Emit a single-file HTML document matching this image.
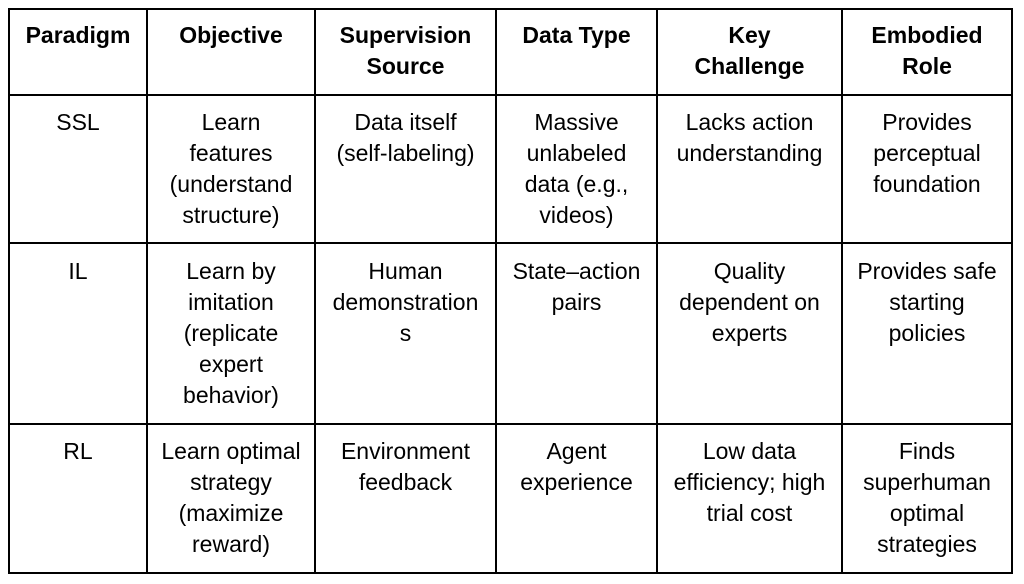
<!DOCTYPE html>
<html><head><style>
body{margin:0;width:1024px;height:584px;background:#fff;position:relative;overflow:hidden;font-family:"Liberation Sans",Arial,sans-serif;color:#000}
.v{position:absolute;background:#000;width:2px}
.h{position:absolute;background:#000;height:2px}
.c{position:absolute;text-align:center;font-size:23px;line-height:31px;white-space:nowrap}
.b{font-weight:bold}
</style></head><body>
<div class="h" style="left:8px;top:8px;width:1005px"></div>
<div class="h" style="left:8px;top:94px;width:1005px"></div>
<div class="h" style="left:8px;top:242px;width:1005px"></div>
<div class="h" style="left:8px;top:423px;width:1005px"></div>
<div class="h" style="left:8px;top:572px;width:1005px"></div>
<div class="v" style="left:8px;top:8px;height:566px"></div>
<div class="v" style="left:146px;top:8px;height:566px"></div>
<div class="v" style="left:314px;top:8px;height:566px"></div>
<div class="v" style="left:495px;top:8px;height:566px"></div>
<div class="v" style="left:656px;top:8px;height:566px"></div>
<div class="v" style="left:841px;top:8px;height:566px"></div>
<div class="v" style="left:1011px;top:8px;height:566px"></div>

<div class="c b" style="left:10px;width:136px;top:20px">Paradigm</div>
<div class="c b" style="left:148px;width:166px;top:20px">Objective</div>
<div class="c b" style="left:316px;width:179px;top:20px">Supervision<br>Source</div>
<div class="c b" style="left:497px;width:159px;top:20px">Data Type</div>
<div class="c b" style="left:658px;width:183px;top:20px">Key<br>Challenge</div>
<div class="c b" style="left:843px;width:168px;top:20px">Embodied<br>Role</div>

<div class="c" style="left:10px;width:136px;top:107px">SSL</div>
<div class="c" style="left:148px;width:166px;top:107px">Learn<br>features<br>(understand<br>structure)</div>
<div class="c" style="left:316px;width:179px;top:107px">Data itself<br>(self-labeling)</div>
<div class="c" style="left:497px;width:159px;top:107px">Massive<br>unlabeled<br>data (e.g.,<br>videos)</div>
<div class="c" style="left:658px;width:183px;top:107px">Lacks action<br>understanding</div>
<div class="c" style="left:843px;width:168px;top:107px">Provides<br>perceptual<br>foundation</div>

<div class="c" style="left:10px;width:136px;top:256px">IL</div>
<div class="c" style="left:148px;width:166px;top:256px">Learn by<br>imitation<br>(replicate<br>expert<br>behavior)</div>
<div class="c" style="left:316px;width:179px;top:256px">Human<br>demonstration<br>s</div>
<div class="c" style="left:497px;width:159px;top:256px">State–action<br>pairs</div>
<div class="c" style="left:658px;width:183px;top:256px">Quality<br>dependent on<br>experts</div>
<div class="c" style="left:843px;width:168px;top:256px">Provides safe<br>starting<br>policies</div>

<div class="c" style="left:10px;width:136px;top:436px">RL</div>
<div class="c" style="left:148px;width:166px;top:436px">Learn optimal<br>strategy<br>(maximize<br>reward)</div>
<div class="c" style="left:316px;width:179px;top:436px">Environment<br>feedback</div>
<div class="c" style="left:497px;width:159px;top:436px">Agent<br>experience</div>
<div class="c" style="left:658px;width:183px;top:436px">Low data<br>efficiency; high<br>trial cost</div>
<div class="c" style="left:843px;width:168px;top:436px">Finds<br>superhuman<br>optimal<br>strategies</div>
</body></html>
